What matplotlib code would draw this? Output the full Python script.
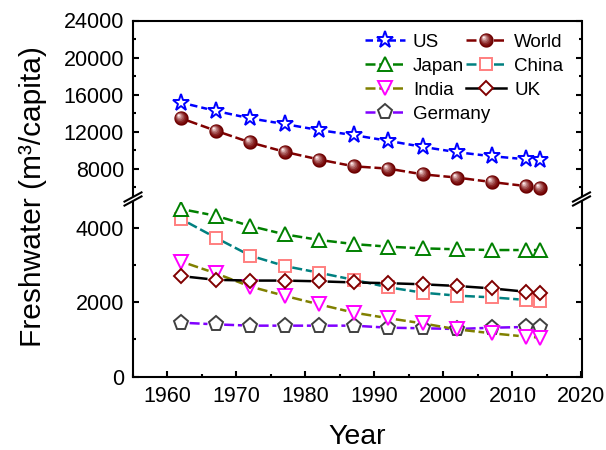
import numpy as np
import matplotlib
matplotlib.use("Agg")
import matplotlib.pyplot as plt
from matplotlib.lines import Line2D
from matplotlib.path import Path
from matplotlib.ticker import MultipleLocator, FixedLocator

plt.rcParams['font.family'] = ['Liberation Sans', 'DejaVu Sans']

# Per-capita renewable freshwater resources (m^3 per person)
years = [1962, 1967, 1972, 1977, 1982, 1987, 1992, 1997, 2002, 2007, 2012, 2014]
us = [15130, 14230, 13430, 12810, 12160, 11620, 11000, 10350, 9770, 9340, 9010, 8900]
world = [13430, 12090, 10830, 9810, 8980, 8250, 8000, 7380, 7030, 6550, 6110, 5940]
japan = [4500, 4320, 4045, 3820, 3670, 3560, 3490, 3445, 3420, 3400, 3400, 3400]
china = [4230, 3730, 3250, 2970, 2790, 2600, 2400, 2255, 2175, 2130, 2060, 2030]
india = [3090, 2775, 2420, 2170, 1940, 1720, 1570, 1430, 1270, 1165, 1075, 1050]
uk = [2700, 2600, 2580, 2580, 2560, 2530, 2510, 2480, 2435, 2370, 2280, 2240]
germany = [1450, 1405, 1370, 1370, 1370, 1370, 1315, 1300, 1280, 1315, 1335, 1335]

x_ticks = [1960, 1970, 1980, 1990, 2000, 2010, 2020]
upper_ticks = [8000, 12000, 16000, 20000, 24000]
lower_ticks = [0, 2000, 4000]

W, H = 606, 450
fig = plt.figure(figsize=(W / 100, H / 100), dpi=100)

left = 133 / W
width = (581.5 - 133) / W
ax_lo = fig.add_axes([left, (H - 376.7) / H, width, (376.7 - 201.6) / H])
ax_hi = fig.add_axes([left, (H - 196.4) / H, width, (196.4 - 20.5) / H])

LW = 1.8
DASH = (0, (4, 1.5))
TICK_FS = 15.5
LEG_FS = 13.5
LABEL_FS = 21.5


def sphere_layers(n=7):
    """Marker paths that stack into a shaded ball with a highlight top-left."""
    layers = []
    t = np.linspace(0, 2 * np.pi, 40)
    dark = np.array([0.45, 0.0, 0.0])
    light = np.array([1.0, 0.93, 0.93])
    for i in range(n):
        f = i / (n - 1)
        cx, cy = -0.38 * f, 0.42 * f
        r = 1.0 - 0.86 * f
        circ = np.column_stack([cx + r * np.cos(t), cy + r * np.sin(t)])
        verts = np.vstack([[[-1, -1]], [[1, 1]], circ])
        codes = ([Path.MOVETO, Path.MOVETO, Path.MOVETO]
                 + [Path.LINETO] * (len(t) - 2) + [Path.CLOSEPOLY])
        col = dark + (light - dark) * f ** 1.6
        if i == 0:
            col = np.array([0.42, 0.0, 0.0])
        layers.append((Path(verts, codes), tuple(col)))
    return layers


def gapped_line(ax, x, y, color, ls, shrink):
    for i in range(len(x) - 1):
        ax.annotate('', xy=(x[i + 1], y[i + 1]), xytext=(x[i], y[i]),
                    arrowprops=dict(arrowstyle='-', color=color, lw=LW,
                                    linestyle=ls, shrinkA=shrink, shrinkB=shrink,
                                    capstyle='butt'),
                    zorder=2, annotation_clip=False)


series = {
    'US': dict(y=us, ax=ax_hi, line='#0000FF', ls=(0, (3, 1.6)), marker='*', ms=12.5,
               mec='#0000FF', gap=6.5),
    'World': dict(y=world, ax=ax_hi, line='#800000', ls=DASH, marker='sphere', ms=10.3,
                  mec='#800000', gap=5.0),
    'Japan': dict(y=japan, ax=ax_lo, line='#008000', ls=DASH, marker='^', ms=10.5,
                  mec='#008000', gap=5.5),
    'China': dict(y=china, ax=ax_lo, line='#008080', ls=DASH, marker='s', ms=8.5,
                  mec='#FF7F7F', gap=5.5),
    'India': dict(y=india, ax=ax_lo, line='#808000', ls=DASH, marker='v', ms=10.5,
                  mec='#FF00FF', gap=5.5),
    'UK': dict(y=uk, ax=ax_lo, line='#000000', ls='-', marker='D', ms=7.6,
               mec='#800000', gap=6.0),
    'Germany': dict(y=germany, ax=ax_lo, line='#8000FF', ls=DASH, marker='p', ms=11,
                    mec='#404040', gap=6.0),
}

balls = sphere_layers()
handles = {}
draw_order = ['Germany', 'China', 'India', 'UK', 'Japan', 'World', 'US']
for z, name in enumerate(draw_order):
    s = series[name]
    ax = s['ax']
    gapped_line(ax, years, s['y'], s['line'], s['ls'], s['gap'])
    if s['marker'] == 'sphere':
        parts = []
        for k, (p, col) in enumerate(balls):
            ax.plot(years, s['y'], linestyle='none', marker=p, ms=s['ms'],
                    mfc=col, mec='none', mew=0, zorder=5 + z * 0.01 + k * 0.001)
            parts.append(Line2D([], [], linestyle=(s['ls'] if k == 0 else 'none'),
                                color=s['line'], lw=LW, marker=p, ms=s['ms'],
                                mfc=col, mec='none', mew=0))
        handles[name] = tuple(parts)
    else:
        ax.plot(years, s['y'], linestyle='none', marker=s['marker'], ms=s['ms'],
                mfc='white', mec=s['mec'], mew=1.4, zorder=5 + z * 0.01)
        handles[name] = Line2D([], [], linestyle=s['ls'], color=s['line'], lw=LW,
                               marker=s['marker'], ms=s['ms'], mfc='white',
                               mec=s['mec'], mew=1.4)

# axes styling
for ax in (ax_lo, ax_hi):
    ax.set_xlim(1955, 2020)
    for sp in ax.spines.values():
        sp.set_linewidth(1.5)
    ax.tick_params(axis='both', which='both', direction='in', width=1.5,
                   labelsize=TICK_FS, right=True, top=False)
    ax.tick_params(axis='both', which='major', length=4.5)
    ax.tick_params(axis='both', which='minor', length=2.5)
    ax.tick_params(axis='y', pad=6.5)

ax_hi.set_ylim(5000, 24000)
ax_hi.yaxis.set_major_locator(FixedLocator(upper_ticks))
ax_hi.yaxis.set_minor_locator(MultipleLocator(2000))
ax_hi.spines['bottom'].set_visible(False)
ax_hi.tick_params(axis='x', which='both', bottom=False, labelbottom=False)

ax_lo.set_ylim(0, 4700)
ax_lo.yaxis.set_major_locator(FixedLocator(lower_ticks))
ax_lo.yaxis.set_minor_locator(MultipleLocator(1000))
ax_lo.spines['top'].set_visible(False)
ax_lo.xaxis.set_major_locator(FixedLocator(x_ticks))
ax_lo.xaxis.set_minor_locator(MultipleLocator(5))
ax_lo.tick_params(axis='x', pad=6.5)

# axis break marks
for xp in (133, 581.5):
    for yp in (197.0, 201.0):
        fig.add_artist(Line2D([(xp - 8.5) / W, (xp + 8.5) / W],
                              [(H - yp - 4.6) / H, (H - yp + 4.6) / H],
                              color='black', lw=1.5, transform=fig.transFigure))

# legends: two columns placed side by side
leg_kw = dict(loc='upper left', bbox_transform=fig.transFigure, frameon=False,
              borderpad=0, borderaxespad=0, handlelength=2.13, handletextpad=0.43,
              labelspacing=0.37, fontsize=LEG_FS)
col1 = ['US', 'Japan', 'India', 'Germany']
col2 = ['World', 'China', 'UK']
leg1 = ax_hi.legend([handles[n] for n in col1], col1,
                    bbox_to_anchor=(365 / W, 1 - 33.5 / H), **leg_kw)
ax_hi.add_artist(leg1)
leg2 = ax_hi.legend([handles[n] for n in col2], col2,
                    bbox_to_anchor=(466 / W, 1 - 33.5 / H), **leg_kw)

fig.text(33 / W, 1 - 197 / H, 'Freshwater (m³/capita)', rotation=90,
         ha='center', va='center', fontsize=LABEL_FS)
fig.text(357 / W, 1 - 443.5 / H, 'Year', ha='center', va='baseline',
         fontsize=20.5)

fig.savefig('out.png', dpi=100)
